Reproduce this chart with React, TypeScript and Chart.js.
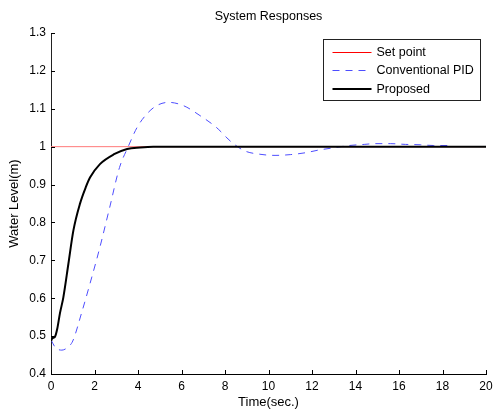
import React, { useEffect, useRef } from 'react';
import { Chart, registerables } from 'chart.js';

Chart.register(...registerables);

const titleText = 'System Responses';
const xAxisTitle = 'Time(sec.)';
const yAxisTitle = 'Water Level(m)';

const xTickLabels = ['0', '2', '4', '6', '8', '10', '12', '14', '16', '18', '20'];
const yTickLabels = ['0.4', '0.5', '0.6', '0.7', '0.8', '0.9', '1', '1.1', '1.2', '1.3'];

const seriesNames = ['Set point', 'Conventional PID', 'Proposed'];

const setPointTime = [0, 20];
const setPointValue = [1, 1];

const pidTime = [0, 0.2, 0.5, 0.8, 1.0, 1.4, 1.8, 2.25, 2.7, 3.15, 3.55, 3.95, 4.4, 4.85, 5.4, 6.1, 6.85, 7.6, 8.3, 8.9, 9.6, 10.3, 11.0, 11.7, 12.3, 13.0, 13.7, 14.4, 14.9, 15.6, 16.3, 17.0, 17.6, 18.35];
const pidValue = [0.49, 0.47, 0.463, 0.472, 0.487, 0.56, 0.64, 0.735, 0.84, 0.945, 1.0, 1.05, 1.086, 1.108, 1.117, 1.108, 1.082, 1.051, 1.012, 0.989, 0.98, 0.977, 0.979, 0.984, 0.991, 0.997, 1.003, 1.006, 1.008, 1.008, 1.006, 1.005, 1.003, 1.003];

const proposedTime = [0, 0.06, 0.18, 0.29, 0.41, 0.57, 0.8, 1.03, 1.33, 1.6, 1.8, 2.25, 2.9, 3.5, 4.1, 4.7, 5.5, 20];
const proposedValue = [0.487, 0.494, 0.498, 0.52, 0.56, 0.603, 0.691, 0.779, 0.849, 0.893, 0.919, 0.954, 0.98, 0.994, 0.998, 1.0, 1.0, 1.0];

const FONT = '"Liberation Sans", Arial, Helvetica, sans-serif';
const SETPOINT_COLOR = '#ff7a7a';
const SETPOINT_LEGEND_COLOR = '#ff0000';
const PID_COLOR = '#4d4dff';
const PROPOSED_COLOR = '#000000';

const toPoints = (xs: number[], ys: number[]) => xs.map((x, i) => ({ x, y: ys[i] }));

const insideTicksAndLegend = {
  id: 'insideTicksAndLegend',
  afterDraw(chart: any) {
    const ctx = chart.ctx as CanvasRenderingContext2D;
    const xs = chart.scales.x;
    const ys = chart.scales.y;
    const area = chart.chartArea;
    ctx.save();
    ctx.strokeStyle = '#000';
    ctx.lineWidth = 1;
    ctx.beginPath();
    xs.ticks.forEach((t: any) => {
      const px = Math.round(xs.getPixelForValue(t.value)) + 0.5;
      ctx.moveTo(px, area.bottom);
      ctx.lineTo(px, area.bottom - 4);
    });
    ys.ticks.forEach((t: any) => {
      const py = Math.round(ys.getPixelForValue(t.value)) + 0.5;
      ctx.moveTo(area.left, py);
      ctx.lineTo(area.left + 4, py);
    });
    ctx.stroke();

    // legend box
    const legendColors = [SETPOINT_LEGEND_COLOR, PID_COLOR, PROPOSED_COLOR];
    const bw = 157;
    const bh = 61;
    const bx = Math.round(area.right - 163) + 0.5;
    const by = Math.round(area.top + 6) + 0.5;
    ctx.fillStyle = '#fff';
    ctx.fillRect(bx, by, bw, bh);
    ctx.strokeStyle = '#222';
    ctx.lineWidth = 1;
    ctx.strokeRect(bx, by, bw, bh);
    ctx.font = `12.5px ${FONT}`;
    ctx.textBaseline = 'middle';
    ctx.textAlign = 'left';
    chart.data.datasets.forEach((ds: any, i: number) => {
      const ly = Math.round(by + 12 + i * 18.6) + (ds.borderWidth === 1 ? 0.5 : 0);
      ctx.save();
      ctx.strokeStyle = legendColors[i];
      ctx.lineWidth = ds.borderWidth;
      ctx.setLineDash(ds.borderDash || []);
      ctx.beginPath();
      ctx.moveTo(bx + 9, ly);
      ctx.lineTo(bx + 48, ly);
      ctx.stroke();
      ctx.restore();
      ctx.fillStyle = '#000';
      ctx.fillText(ds.label, bx + 53, ly + 0.5);
    });
    ctx.restore();
  },
};

export default function App() {
  const canvasRef = useRef<HTMLCanvasElement | null>(null);

  useEffect(() => {
    if (!canvasRef.current) return;
    const chart = new Chart(canvasRef.current, {
      type: 'line',
      data: {
        datasets: [
          {
            label: seriesNames[0],
            data: toPoints(setPointTime, setPointValue),
            borderColor: SETPOINT_COLOR,
            borderWidth: 1,
            pointRadius: 0,
            order: 2,
          } as any,
          {
            label: seriesNames[1],
            data: toPoints(pidTime, pidValue),
            borderColor: PID_COLOR,
            borderWidth: 1,
            borderDash: [7, 6],
            pointRadius: 0,
            cubicInterpolationMode: 'monotone',
            order: 1,
          } as any,
          {
            label: seriesNames[2],
            data: toPoints(proposedTime, proposedValue),
            borderColor: PROPOSED_COLOR,
            borderWidth: 2,
            pointRadius: 0,
            cubicInterpolationMode: 'monotone',
            order: 0,
          } as any,
        ],
      },
      options: {
        responsive: false,
        animation: false,
        events: [],
        layout: { padding: { left: 0, right: 7, top: 0, bottom: 0 } },
        plugins: {
          legend: { display: false },
          tooltip: { enabled: false },
          title: {
            display: true,
            text: titleText,
            fullSize: false,
            color: '#000',
            font: { family: FONT, size: 12.5, weight: 'normal' },
            padding: { top: 9, bottom: 9 },
          },
        },
        scales: {
          x: {
            type: 'linear',
            min: 0,
            max: 20,
            grid: { display: false, drawTicks: false, tickLength: 0 },
            border: { display: true, color: '#000', width: 1 },
            ticks: {
              stepSize: 2,
              padding: 5,
              color: '#000',
              maxRotation: 0,
              autoSkip: false,
              font: { family: FONT, size: 12 },
              callback: (_v: any, i: number) => xTickLabels[i],
            },
            title: {
              display: true,
              text: xAxisTitle,
              color: '#000',
              font: { family: FONT, size: 13 },
              padding: { top: 1, bottom: 0 },
            },
            afterFit: (s: any) => {
              s.height = 36;
              s.paddingLeft = 0;
              s.paddingRight = 7;
            },
          },
          y: {
            type: 'linear',
            min: 0.4,
            max: 1.3,
            grid: { display: false, drawTicks: false, tickLength: 0 },
            border: { display: true, color: '#222', width: 1 },
            ticks: {
              stepSize: 0.1,
              padding: 5,
              color: '#000',
              autoSkip: false,
              font: { family: FONT, size: 12 },
              callback: (_v: any, i: number) => yTickLabels[i],
            },
            title: {
              display: true,
              text: yAxisTitle,
              color: '#000',
              font: { family: FONT, size: 13 },
              padding: { top: 7, bottom: 0 },
            },
            afterFit: (s: any) => {
              s.width = 51;
            },
          },
        },
      } as any,
      plugins: [insideTicksAndLegend],
    });
    return () => chart.destroy();
  }, []);

  return (
    <div style={{ position: 'absolute', left: 0, top: 0, width: 493, height: 410, background: '#fff' }}>
      <canvas ref={canvasRef} width={493} height={410} style={{ display: 'block' }} />
    </div>
  );
}
